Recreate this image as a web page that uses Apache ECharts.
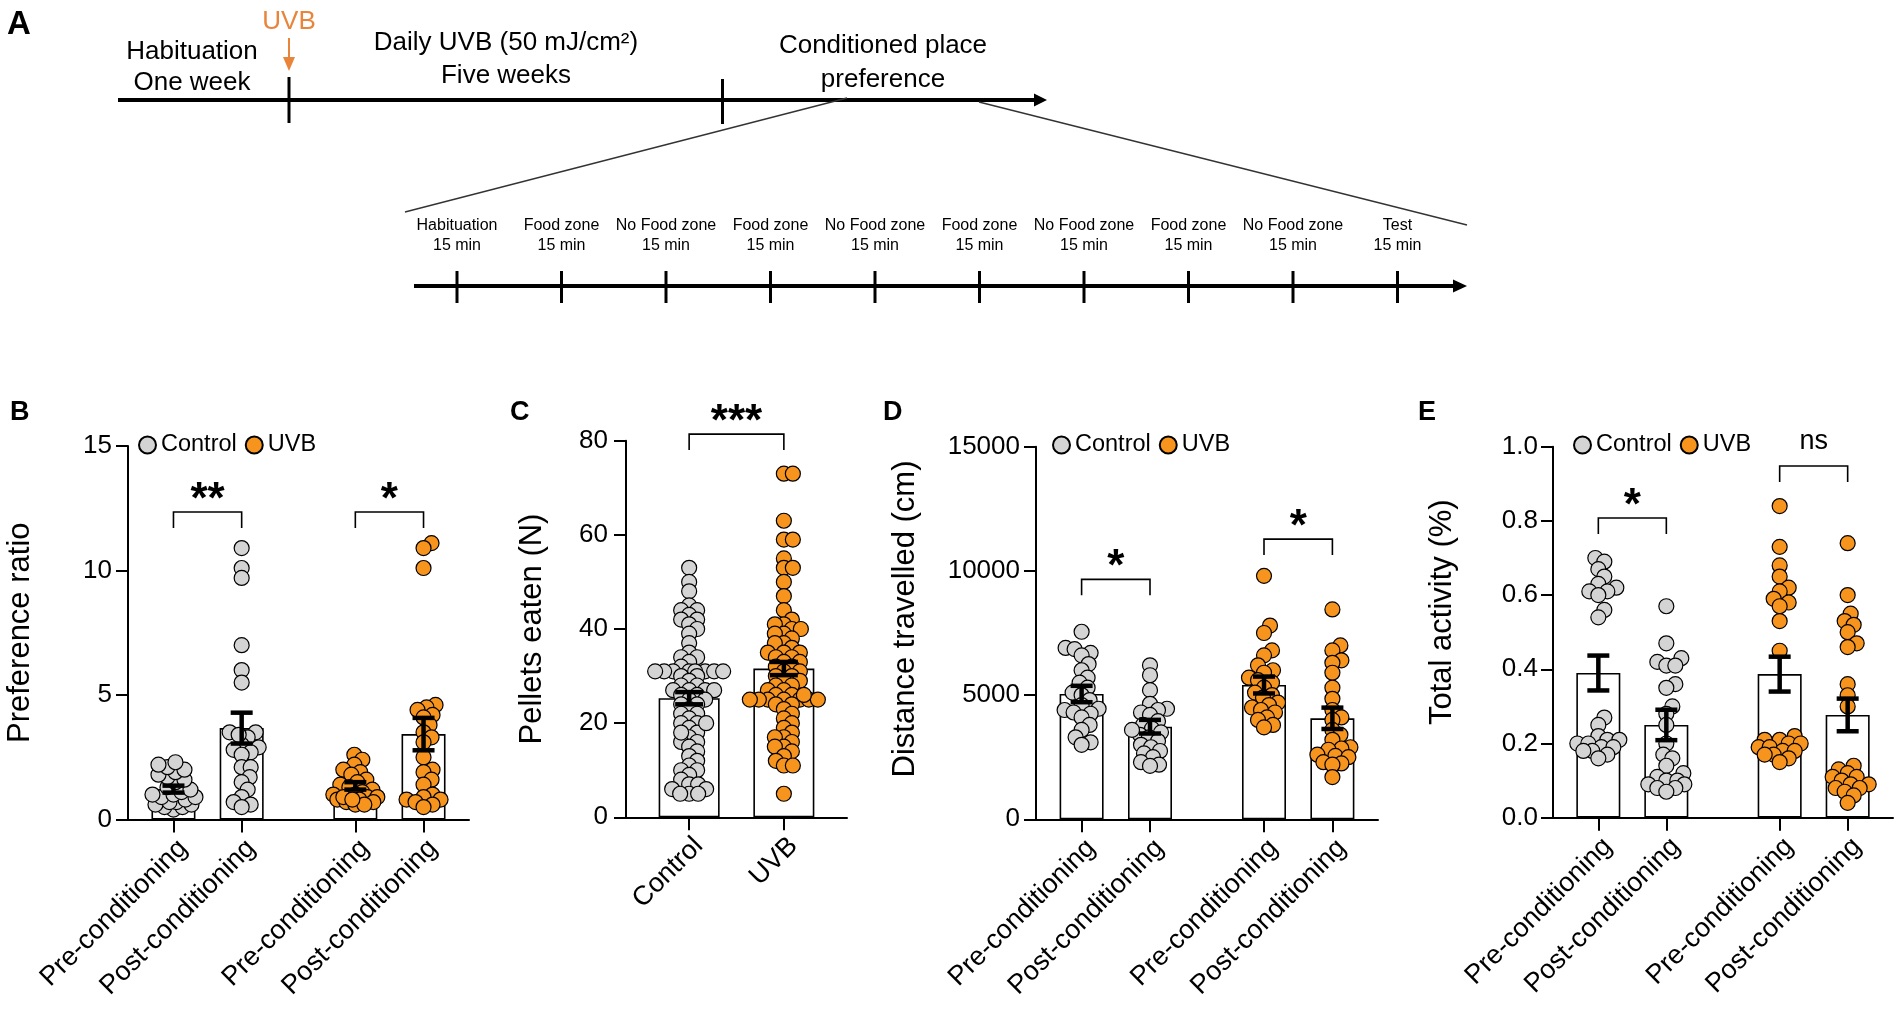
<!DOCTYPE html>
<html><head><meta charset="utf-8">
<script src="https://cdn.jsdelivr.net/npm/echarts@6/dist/echarts.min.js"></script>
<style>html,body{margin:0;padding:0;background:#fff}#c{width:1902px;height:1013px}</style>
</head><body><div id="c"></div>
<script>
// ---------------- DATA ----------------
const groupLabels = ['Pre-conditioning', 'Post-conditioning', 'Pre-conditioning', 'Post-conditioning'];
const groupTreatment = ['Control', 'Control', 'UVB', 'UVB'];
const pelletLabels = ['Control', 'UVB'];
const pelletTreatment = ['Control', 'UVB'];

// Panel B: preference ratio
const prefCtrlPre = [0.4, 0.5, 0.5, 0.6, 0.6, 0.7, 0.7, 0.8, 0.9, 0.9, 1.0, 1.0, 1.1, 1.2, 1.3, 1.5, 1.6, 1.7, 1.8, 1.9, 2.0, 2.1, 2.2, 2.3];
const prefCtrlPost = [10.9, 10.1, 9.7, 7.0, 6.0, 5.5, 3.5, 3.5, 3.3, 3.0, 2.9, 2.8, 2.7, 2.6, 2.1, 2.1, 1.7, 1.5, 1.2, 0.9, 0.7, 0.6, 0.5, 3.4];
const prefUvbPre = [2.6, 2.4, 2.2, 2.0, 1.9, 1.8, 1.6, 1.5, 1.4, 1.3, 1.2, 1.1, 1.0, 1.0, 0.9, 0.9, 0.8, 0.8, 0.7, 0.7, 0.6, 0.6, 0.9, 0.8];
const prefUvbPost = [11.1, 10.9, 10.1, 4.6, 4.5, 4.4, 4.2, 4.1, 3.8, 3.5, 3.3, 3.1, 2.5, 2.0, 1.9, 1.6, 1.4, 1.0, 0.9, 0.8, 0.8, 0.7, 0.6, 0.5];
const prefMeans = [1.22, 3.67, 1.35, 3.43];
const prefSem = [0.14, 0.62, 0.15, 0.65];
const prefSigText = ['**', '*'];
const prefSigY = [12.35, 12.35];

// Panel C: pellets eaten
const pelletsCtrl = [53, 50, 48, 45, 44, 44, 43, 42, 42, 41, 40, 39, 37, 35, 34, 34, 33, 32, 31, 31, 31, 31, 31, 31, 31, 31, 30, 30, 29, 28, 28, 27, 27, 27, 27, 26, 26, 25, 25, 24, 24, 23, 22, 22, 21, 20, 20, 19, 18, 17, 16, 16, 15, 14, 13, 12, 11, 10, 10, 9, 8, 7, 7, 6, 6, 5, 5, 5, 20, 18];
const pelletsUvb = [73, 73, 63, 59, 59, 55, 53, 53, 50, 47, 44, 42, 41, 41, 40, 40, 39, 39, 38, 37, 37, 36, 35, 35, 35, 34, 34, 33, 33, 32, 32, 31, 31, 30, 30, 29, 29, 28, 28, 27, 27, 26, 26, 25, 25, 25, 25, 25, 25, 25, 24, 24, 23, 22, 21, 20, 19, 18, 17, 17, 16, 15, 15, 14, 13, 12, 11, 11, 5, 26];
const pelletsMeans = [25.3, 31.6];
const pelletsSem = [1.3, 1.4];
const pelletsSigText = ['***'];
const pelletsSigY = [81.4];

// Panel D: distance travelled (cm)
const distCtrlPre = [7550, 6900, 6850, 6700, 6600, 6250, 6000, 5700, 5500, 5300, 5100, 5000, 4800, 4600, 4450, 4400, 4300, 4250, 4100, 3800, 3600, 3300, 3100, 3000];
const distCtrlPost = [6200, 5800, 5200, 4650, 4450, 4400, 4300, 4200, 3950, 3800, 3650, 3500, 3400, 3300, 3150, 3000, 2900, 2750, 2650, 2500, 2300, 2200, 2150, 3600];
const distUvbPre = [9800, 7800, 7500, 6800, 6600, 6200, 6000, 5900, 5700, 5600, 5500, 5300, 5100, 5000, 4900, 4700, 4600, 4500, 4400, 4300, 4100, 4000, 3800, 3700];
const distUvbPost = [8450, 7000, 6800, 6400, 6300, 5900, 5300, 4850, 4400, 4100, 4000, 3600, 3400, 3200, 2900, 2850, 2800, 2600, 2550, 2500, 2300, 2250, 2200, 1700];
const distMeans = [5044, 3728, 5406, 4066];
const distSem = [330, 275, 340, 430];
const distSigText = ['*', '*'];
const distSigY = [9660, 11280];

// Panel E: total activity (%)
const actCtrlPre = [0.70, 0.69, 0.67, 0.65, 0.63, 0.62, 0.61, 0.61, 0.60, 0.56, 0.54, 0.27, 0.25, 0.22, 0.21, 0.21, 0.20, 0.20, 0.19, 0.19, 0.18, 0.18, 0.17, 0.16];
const actCtrlPost = [0.57, 0.47, 0.43, 0.42, 0.41, 0.41, 0.36, 0.35, 0.30, 0.28, 0.25, 0.20, 0.17, 0.16, 0.14, 0.12, 0.11, 0.10, 0.10, 0.09, 0.09, 0.08, 0.08, 0.07];
const actUvbPre = [0.84, 0.73, 0.68, 0.65, 0.62, 0.61, 0.59, 0.58, 0.57, 0.53, 0.45, 0.22, 0.21, 0.21, 0.20, 0.20, 0.19, 0.19, 0.18, 0.18, 0.17, 0.17, 0.16, 0.15];
const actUvbPost = [0.74, 0.60, 0.55, 0.53, 0.52, 0.50, 0.47, 0.46, 0.36, 0.33, 0.30, 0.14, 0.13, 0.12, 0.11, 0.11, 0.10, 0.09, 0.09, 0.08, 0.08, 0.07, 0.06, 0.04];
const actMeans = [0.39, 0.25, 0.387, 0.277];
const actSem = [0.047, 0.041, 0.047, 0.044];
const actSigText = ['*', 'ns'];
const actSigY = [0.808, 0.948];

// Panel A: timeline text
const phaseTop = ['Habituation', 'Daily UVB (50 mJ/cm²)', 'Conditioned place'];
const phaseBottom = ['One week', 'Five weeks', 'preference'];
const uvbMarkLabel = 'UVB';
const cppStages = ['Habituation', 'Food zone', 'No Food zone', 'Food zone', 'No Food zone', 'Food zone', 'No Food zone', 'Food zone', 'No Food zone', 'Test'];
const cppDurations = ['15 min', '15 min', '15 min', '15 min', '15 min', '15 min', '15 min', '15 min', '15 min', '15 min'];

// ---------------- STYLE / LAYOUT ----------------
const FONT = '"Liberation Sans", Arial, Helvetica, sans-serif';
const COLORS = { Control: '#d4d4d4', UVB: '#f7941d' };
const UVB_TEXT = '#e8853a';

function swarm(values, pxPerUnit, minDist, maxOff) {
  const step = 1;
  const idx = values.map((_, i) => i).sort((a, b) => values[a] - values[b]);
  const placed = [];
  const off = new Array(values.length).fill(0);
  for (const i of idx) {
    const y = values[i] * pxPerUnit;
    let chosen = null, bestScore = -1, bestDx = 0;
    for (let k = 0; k <= 2 * maxOff / step; k++) {
      const dx = (k % 2 ? 1 : -1) * Math.ceil(k / 2) * step;
      let dmin = Infinity;
      for (const p of placed) {
        const d = Math.hypot(p.x - dx, p.y - y);
        if (d < dmin) dmin = d;
      }
      if (dmin >= minDist) { chosen = dx; break; }
      if (dmin > bestScore) { bestScore = dmin; bestDx = dx; }
    }
    if (chosen === null) chosen = bestDx;
    placed.push({ x: chosen, y });
    off[i] = chosen;
  }
  return off;
}

const grids = [], xAxes = [], yAxes = [], series = [];

function addPanel(p) {
  const g = grids.length;
  grids.push({ left: p.left, top: p.top, width: p.width, height: p.height, containLabel: false, outerBoundsMode: 'none' });
  const cats = [];
  const labelAt = {};
  for (let i = 0; i < p.slots; i++) cats.push(String(i));
  p.slotIdx.forEach((s, i) => { labelAt[s] = p.labels[i]; });
  const show = (index) => labelAt[index] !== undefined;
  xAxes.push({
    type: 'category', gridIndex: g, data: cats, boundaryGap: false,
    axisLine: { show: true, onZero: false, lineStyle: { color: '#000', width: 2 } },
    axisTick: { show: true, length: 13, interval: show, lineStyle: { color: '#000', width: 2 } },
    axisLabel: {
      interval: show, formatter: (v) => labelAt[+v] || '', rotate: 45, margin: 15,
      verticalAlign: 'top', fontSize: 27, color: '#000', fontFamily: FONT
    },
    splitLine: { show: false }
  });
  yAxes.push({
    type: 'value', gridIndex: g, min: 0, max: p.yMax, interval: p.yInterval,
    axisLine: { show: true, lineStyle: { color: '#000', width: 2 } },
    axisTick: { show: true, length: 12, lineStyle: { color: '#000', width: 2 } },
    axisLabel: { fontSize: 26, color: '#000', margin: p.labelMargin, fontFamily: FONT, formatter: p.fmt || ((v) => String(v)) },
    splitLine: { show: false },
    name: p.yName, nameLocation: 'middle', nameGap: p.nameGap,
    nameTextStyle: { fontSize: 31, color: '#000', fontFamily: FONT, padding: p.namePad || 0 }
  });
  const ppu = p.height / p.yMax;
  series.push({
    type: 'bar', xAxisIndex: g, yAxisIndex: g, barWidth: p.barWidth, z: 1, silent: true,
    data: p.means.map((m, i) => [p.slotIdx[i], m]),
    itemStyle: { color: '#fff', borderColor: '#000', borderWidth: 1.6 }
  });
  p.groups.forEach((vals, i) => {
    const offs = swarm(vals, ppu, p.minDist, p.maxOff);
    series.push({
      type: 'scatter', name: p.treat[i], xAxisIndex: g, yAxisIndex: g, z: 2, silent: true,
      symbol: 'circle', symbolSize: 15,
      itemStyle: { color: COLORS[p.treat[i]], borderColor: '#000', borderWidth: 1.2, opacity: 1 },
      data: vals.map((v, j) => ({ value: [p.slotIdx[i], v], symbolOffset: [offs[j], 0] }))
    });
  });
  const cap = p.capWidth / 2;
  series.push({
    type: 'custom', xAxisIndex: g, yAxisIndex: g, z: 4, silent: true, clip: false,
    data: p.means.map((m, i) => [p.slotIdx[i], m - p.sem[i], m + p.sem[i]]),
    renderItem: (params, api) => {
      const lo = api.coord([api.value(0), api.value(1)]);
      const hi = api.coord([api.value(0), api.value(2)]);
      const st = { stroke: '#000', lineWidth: 4.5 };
      return { type: 'group', children: [
        { type: 'line', shape: { x1: lo[0], y1: lo[1], x2: hi[0], y2: hi[1] }, style: st },
        { type: 'line', shape: { x1: hi[0] - cap, y1: hi[1], x2: hi[0] + cap, y2: hi[1] }, style: st },
        { type: 'line', shape: { x1: lo[0] - cap, y1: lo[1], x2: lo[0] + cap, y2: lo[1] }, style: st }
      ] };
    }
  });
  series.push({
    type: 'custom', xAxisIndex: g, yAxisIndex: g, z: 4, silent: true, clip: false,
    data: p.sigY.map((y, i) => [p.slotIdx[2 * i], p.slotIdx[2 * i + 1], y]),
    renderItem: (params, api) => {
      const a = api.coord([api.value(0), api.value(2)]);
      const b = api.coord([api.value(1), api.value(2)]);
      const t = p.sigText[params.dataIndex];
      const isNs = t === 'ns';
      return { type: 'group', children: [
        { type: 'polyline', shape: { points: [[a[0], a[1] + 16], [a[0], a[1]], [b[0], a[1]], [b[0], a[1] + 16]] },
          style: { stroke: '#000', lineWidth: 1.6, fill: null } },
        { type: 'text', x: (a[0] + b[0]) / 2, y: isNs ? a[1] - 24 : a[1] - 11.5,
          style: { text: t, align: 'center', verticalAlign: 'middle', fill: '#000', fontFamily: FONT,
            fontSize: isNs ? 27 : 44, fontWeight: isNs ? 'normal' : 'bold' } }
      ] };
    }
  });
}

addPanel({ left: 128, top: 446, width: 341, height: 373.5, yMax: 15, yInterval: 5, yName: 'Preference ratio', nameGap: 92,
  labelMargin: 16, slots: 16, slotIdx: [2, 5, 10, 13], labels: groupLabels, treat: groupTreatment,
  groups: [prefCtrlPre, prefCtrlPost, prefUvbPre, prefUvbPost], means: prefMeans, sem: prefSem,
  sigText: prefSigText, sigY: prefSigY, barWidth: 44, capWidth: 22, minDist: 9, maxOff: 22 });
addPanel({ left: 626, top: 440.7, width: 221, height: 376.6, yMax: 80, yInterval: 20, yName: 'Pellets eaten (N)', nameGap: 78,
  labelMargin: 18, slots: 8, slotIdx: [2, 5], labels: pelletLabels, treat: pelletTreatment,
  groups: [pelletsCtrl, pelletsUvb], means: pelletsMeans, sem: pelletsSem,
  sigText: pelletsSigText, sigY: pelletsSigY, barWidth: 61, capWidth: 28, minDist: 9, maxOff: 34 });
addPanel({ left: 1036, top: 446.7, width: 342, height: 372.6, yMax: 15000, yInterval: 5000, yName: 'Distance travelled (cm)', nameGap: 115,
  namePad: [0, 0, 0, 28], labelMargin: 16, slots: 16, slotIdx: [2, 5, 10, 13], labels: groupLabels, treat: groupTreatment,
  groups: [distCtrlPre, distCtrlPost, distUvbPre, distUvbPost], means: distMeans, sem: distSem,
  sigText: distSigText, sigY: distSigY, barWidth: 44, capWidth: 22, minDist: 9, maxOff: 22 });
addPanel({ left: 1553, top: 446.7, width: 340, height: 371, yMax: 1, yInterval: 0.2, yName: 'Total activity (%)', nameGap: 95,
  namePad: [0, 0, 0, 40], labelMargin: 15, slots: 16, slotIdx: [2, 5, 10, 13], labels: groupLabels, treat: groupTreatment,
  fmt: (v) => v.toFixed(1),
  groups: [actCtrlPre, actCtrlPost, actUvbPre, actUvbPost], means: actMeans, sem: actSem,
  sigText: actSigText, sigY: actSigY, barWidth: 44, capWidth: 22, minDist: 9, maxOff: 22 });

const legendBase = {
  data: ['Control', 'UVB'], icon: 'circle', itemWidth: 17, itemHeight: 17, itemGap: 8, top: 433,
  selectedMode: false, textStyle: { fontSize: 23.5, color: '#000', fontFamily: FONT }, padding: 0
};
const legends = [138, 1052, 1573].map((l) => Object.assign({}, legendBase, { left: l }));

// ---------------- PANEL A (schematic) ----------------
const gfx = [];
function T(x, y, text, size, extra) {
  gfx.push({ type: 'text', x, y, silent: true,
    style: Object.assign({ text, fontSize: size, fontFamily: FONT, fill: '#000', align: 'center', verticalAlign: 'middle' }, extra || {}) });
}
function L(x1, y1, x2, y2, w, c) {
  gfx.push({ type: 'line', silent: true, shape: { x1, y1, x2, y2 }, style: { stroke: c || '#000', lineWidth: w } });
}
function TRI(pts, c) {
  gfx.push({ type: 'polygon', silent: true, shape: { points: pts }, style: { fill: c || '#000' } });
}
// panel letters
T(7, 8, 'A', 33, { align: 'left', verticalAlign: 'top', fontWeight: 'bold' });
[['B', 10], ['C', 510], ['D', 883], ['E', 1418]].forEach(([t, x]) => T(x, 399, t, 27, { align: 'left', verticalAlign: 'top', fontWeight: 'bold' }));
// upper timeline
L(118, 100, 1036, 100, 4);
TRI([[1034, 93.5], [1047, 100], [1034, 106.5]]);
L(289, 77, 289, 123, 3);
L(722.5, 79, 722.5, 124, 3);
const phaseX = [192, 506, 883];
const phaseY1 = [52, 43, 46];
const phaseY2 = [83, 76, 80];
phaseTop.forEach((t, i) => T(phaseX[i], phaseY1[i], t, 26));
phaseBottom.forEach((t, i) => T(phaseX[i], phaseY2[i], t, 26));
T(289, 22, uvbMarkLabel, 26, { fill: UVB_TEXT });
L(289, 38, 289, 60, 2, UVB_TEXT);
TRI([[283, 57], [289, 71], [295, 57]], UVB_TEXT);
// zoom lines
L(847, 98, 405, 212, 1.3, '#333');
L(979, 102, 1467, 225, 1.3, '#333');
// lower timeline
L(414, 286, 1454, 286, 4);
TRI([[1453, 279.5], [1467, 286], [1453, 292.5]]);
cppStages.forEach((s, i) => {
  const x = 457 + i * 104.5;
  L(x, 271, x, 303, 3);
  T(x, 226, s, 16);
  T(x, 246, cppDurations[i], 16);
});

const chart = echarts.init(document.getElementById('c'), null, { renderer: 'canvas' });
chart.setOption({
  animation: false,
  backgroundColor: '#fff',
  grid: grids, xAxis: xAxes, yAxis: yAxes, series, legend: legends,
  graphic: gfx
});
</script></body></html>
